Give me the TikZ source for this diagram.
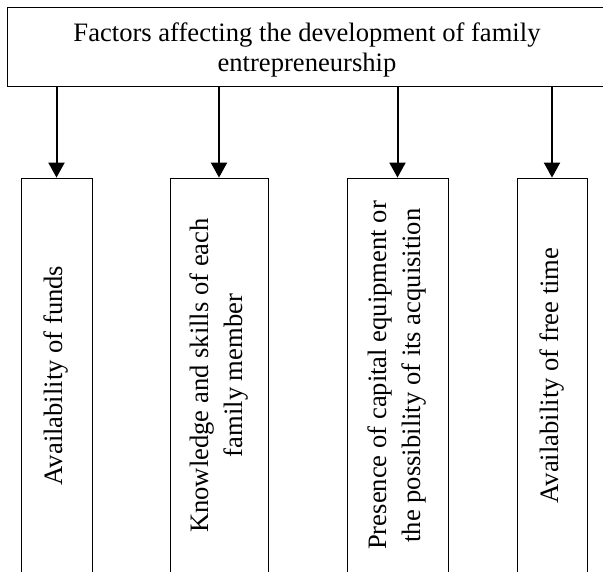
\documentclass[tikz,border=0pt]{standalone}
\usepackage{fontspec}
\setmainfont{Liberation Serif}
\usetikzlibrary{arrows.meta}
\begin{document}
\begin{tikzpicture}[x=1pt,y=1pt,
  topbox/.style={draw,line width=0.8pt,minimum width=600pt,minimum height=79.7pt,inner sep=0pt,align=center,text height=54.7pt,text depth=5pt,font=\fontsize{26.6}{30}\selectfont},
  factor/.style={draw,line width=0.8pt,rotate=90,minimum width=395pt,inner sep=0pt,align=center,font=\fontsize{26.6}{34}\selectfont},
  arr/.style={line width=2pt,-{Triangle[width=16pt,length=15pt]}}]
\useasboundingbox (0,0) rectangle (603,572);
\node[topbox] (top) at (307,525.15) {Factors affecting the development of family\\entrepreneurship};
\node[factor,minimum height=71pt] (b1) at (56.5,196.5) {Availability of funds};
\node[factor,minimum height=98pt] (b2) at (219,196.5) {Knowledge and skills of each\\family member};
\node[factor,minimum height=101pt] (b3) at (397.5,196.5) {Presence of capital equipment or\\the possibility of its acquisition};
\node[factor,minimum height=70pt] (b4) at (552,196.5) {Availability of free time};
\draw[arr] (b1.east |- top.south) -- (b1.east);
\draw[arr] (b2.east |- top.south) -- (b2.east);
\draw[arr] (b3.east |- top.south) -- (b3.east);
\draw[arr] (b4.east |- top.south) -- (b4.east);
\end{tikzpicture}
\end{document}
